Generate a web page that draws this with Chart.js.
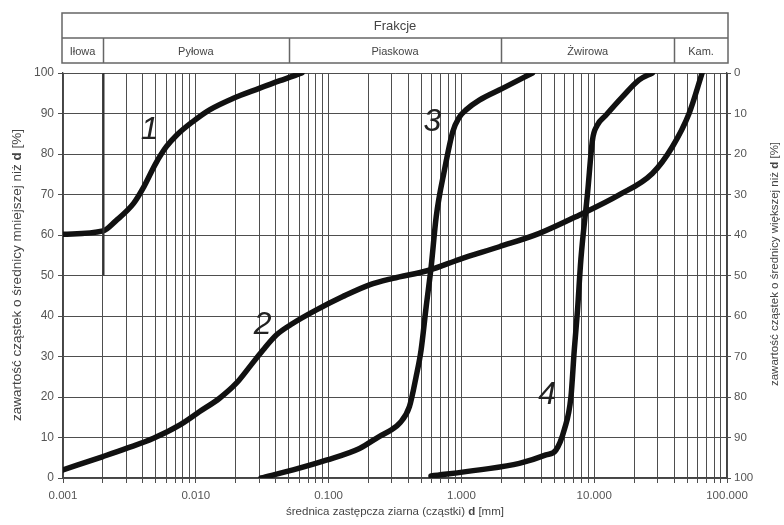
<!DOCTYPE html>
<html><head><meta charset="utf-8">
<script src="https://cdn.jsdelivr.net/npm/chart.js@4/dist/chart.umd.min.js"></script>
<style>html,body{margin:0;padding:0;background:#fff;}#wrap{width:784px;height:525px;}</style>
</head><body><div id="wrap"><canvas id="c" width="784" height="525"></canvas></div>
<script>
// ---- data ----
const xTickValues = [0.001, 0.01, 0.1, 1, 10, 100];
const xTickLabels = ['0.001', '0.010', '0.100', '1.000', '10.000', '100.000'];
const yTickValues = [0, 10, 20, 30, 40, 50, 60, 70, 80, 90, 100];
const headerTitle = 'Frakcje';
const fractionNames = ['Iłowa', 'Pyłowa', 'Piaskowa', 'Żwirowa', 'Kam.'];
const fractionBounds = [0.001, 0.002, 0.05, 2, 40, 100];

const curve1D = [0.001, 0.002, 0.0025, 0.0034, 0.004, 0.005, 0.006, 0.0072, 0.0095, 0.0127, 0.019, 0.03, 0.043, 0.063];
const curve1P = [60.2, 61, 63.5, 67.8, 71.5, 77.7, 81.8, 84.7, 88, 90.9, 93.7, 96.2, 98.1, 100];
const curve2D = [0.001, 0.002, 0.003, 0.0048, 0.0076, 0.0107, 0.0151, 0.0202, 0.0255, 0.0321, 0.0404, 0.054, 0.081, 0.128, 0.203, 0.305, 0.57, 0.97, 1.93, 3.86, 7.7, 15.4, 27.4, 38.8, 51.8, 65];
const curve2P = [2, 5.3, 7.3, 9.8, 13.1, 16.4, 19.7, 23.4, 27.5, 31.6, 35.3, 38.2, 41.5, 44.8, 47.7, 49.3, 51.3, 54, 57.1, 60.4, 64.9, 69.9, 75.2, 81.8, 90, 100];
const curve3D = [0.031, 0.054, 0.096, 0.171, 0.242, 0.30, 0.342, 0.406, 0.456, 0.497, 0.543, 0.592, 0.646, 0.745, 0.861, 0.96, 1.084, 1.365, 2.04, 3.43];
const curve3P = [0, 2, 4.4, 7.3, 10.3, 12, 13.5, 17.6, 25, 31.6, 42.3, 52.2, 64.5, 76, 85.5, 89, 90.9, 93.3, 96.2, 100];
const curve4D = [0.59, 1.365, 2.73, 4.33, 5.15, 5.95, 6.68, 7.08, 7.49, 7.94, 8.91, 9.71, 10.5, 12.2, 16.3, 21.8, 27.4];
const curve4P = [0.5, 2, 3.6, 5.7, 6.9, 11.9, 20, 31.6, 41.5, 54, 70.3, 83.5, 87, 89.5, 94.1, 98.3, 100];

const curveNames = ['1', '2', '3', '4'];
const curveLabelD = [0.0045, 0.0319, 0.605, 4.43];
const curveLabelP = [86, 37.8, 88, 20.5];

const leftTitle = ['zawartość cząstek o średnicy mniejszej niż ', 'd', ' [%]'];
const rightTitle = ['zawartość cząstek o średnicy większej niż ', 'd', ' [%]'];
const bottomTitle = ['średnica zastępcza ziarna (cząstki) ', 'd', ' [mm]'];

// ---- helpers ----
const FONT = '"Liberation Sans", Arial, sans-serif';
const GRID = '#4e4e4e';
function pts(ds, ps) { return ds.map((d, i) => ({ x: d, y: ps[i] })); }
const gridValues = [];
for (let e = -3; e <= 1; e++) {
  for (let s = 1; s <= 9; s++) gridValues.push(+(s * Math.pow(10, e)).toPrecision(6));
}
gridValues.push(100);

function lineDs(d, p) {
  return { data: pts(d, p), borderColor: '#111', borderWidth: 5.5, pointRadius: 0, fill: false,
    cubicInterpolationMode: 'monotone', borderCapStyle: 'round', borderJoinStyle: 'round' };
}

function drawMixed(ctx, parts, cx, cy, size, rot) {
  const fonts = parts.map((_, i) => (i === 1 ? 'bold ' : '') + size + 'px ' + FONT);
  let total = 0; const w = [];
  parts.forEach((t, i) => { ctx.font = fonts[i]; const m = ctx.measureText(t).width; w.push(m); total += m; });
  ctx.save();
  ctx.translate(cx, cy);
  if (rot) ctx.rotate(rot);
  ctx.textBaseline = 'middle'; ctx.textAlign = 'left'; ctx.fillStyle = '#444';
  let x = -total / 2;
  parts.forEach((t, i) => { ctx.font = fonts[i]; ctx.fillText(t, x, 0); x += w[i]; });
  ctx.restore();
}

const decor = {
  id: 'decor',
  afterDraw(chart) {
    const ctx = chart.ctx, xs = chart.scales.x, ys = chart.scales.y, a = chart.chartArea;
    ctx.save();
    // header table
    const L = a.left - 1, R = a.right + 1, T = 13, M = 38, B = 63;
    ctx.strokeStyle = '#666'; ctx.lineWidth = 1.5;
    ctx.strokeRect(L, T, R - L, B - T);
    ctx.beginPath(); ctx.moveTo(L, M); ctx.lineTo(R, M); ctx.stroke();
    for (let i = 1; i < fractionBounds.length - 1; i++) {
      const px = Math.round(xs.getPixelForValue(fractionBounds[i])) + 0.5;
      ctx.beginPath(); ctx.moveTo(px, M); ctx.lineTo(px, B); ctx.stroke();
    }
    ctx.fillStyle = '#444'; ctx.textAlign = 'center'; ctx.textBaseline = 'middle';
    ctx.font = '13px ' + FONT;
    ctx.fillText(headerTitle, (L + R) / 2, (T + M) / 2 + 1);
    ctx.font = '11px ' + FONT;
    for (let i = 0; i < fractionNames.length; i++) {
      const x0 = i === 0 ? L : xs.getPixelForValue(fractionBounds[i]);
      const x1 = i === fractionNames.length - 1 ? R : xs.getPixelForValue(fractionBounds[i + 1]);
      ctx.fillText(fractionNames[i], (x0 + x1) / 2, (M + B) / 2 + 1);
    }
    // 0.002 boundary mark (100 -> 50 %)
    const bx = Math.round(xs.getPixelForValue(fractionBounds[1])) + 0.5;
    ctx.strokeStyle = '#333'; ctx.lineWidth = 2;
    ctx.beginPath(); ctx.moveTo(bx, ys.getPixelForValue(100)); ctx.lineTo(bx, ys.getPixelForValue(50)); ctx.stroke();
    // curve labels
    ctx.fillStyle = '#222'; ctx.font = 'italic 32px ' + FONT;
    ctx.textAlign = 'center'; ctx.textBaseline = 'middle';
    curveNames.forEach((n, i) => ctx.fillText(n, xs.getPixelForValue(curveLabelD[i]), ys.getPixelForValue(curveLabelP[i])));
    // axis titles
    drawMixed(ctx, leftTitle, 17, 275, 13.5, -Math.PI / 2);
    drawMixed(ctx, rightTitle, 775, 264, 11.5, -Math.PI / 2);
    drawMixed(ctx, bottomTitle, 395, 512, 11.5, 0);
    ctx.restore();
  }
};

new Chart(document.getElementById('c'), {
  type: 'line',
  data: { datasets: [lineDs(curve1D, curve1P), lineDs(curve2D, curve2P), lineDs(curve3D, curve3P), lineDs(curve4D, curve4P)] },
  options: {
    responsive: false, animation: false, events: [],
    layout: { padding: { top: 73, left: 0, right: 0, bottom: 0 } },
    plugins: { legend: { display: false }, tooltip: { enabled: false } },
    scales: {
      x: {
        type: 'logarithmic', min: 0.001, max: 100,
        afterBuildTicks: s => { s.ticks = gridValues.map(v => ({ value: v })); },
        afterFit: s => { s.height = 47; },
        ticks: {
          autoSkip: false, maxRotation: 0, minRotation: 0, padding: 6, color: '#555',
          font: { family: FONT, size: 11.5 },
          callback: v => {
            const i = xTickValues.findIndex(t => Math.abs(Math.log10(t) - Math.log10(v)) < 1e-6);
            return i >= 0 ? xTickLabels[i] : '';
          }
        },
        grid: { color: GRID, lineWidth: 1, tickLength: 5 },
        border: { color: '#444', width: 1.3 }
      },
      y: {
        type: 'linear', position: 'left', min: 0, max: 100,
        afterBuildTicks: s => { s.ticks = yTickValues.map(v => ({ value: v })); },
        afterFit: s => { s.width = 63; },
        ticks: { color: '#555', padding: 4, font: { family: FONT, size: 12 } },
        grid: { color: GRID, lineWidth: 1, tickLength: 5 },
        border: { color: '#444', width: 1.3 }
      },
      y2: {
        type: 'linear', position: 'right', min: 0, max: 100, reverse: true,
        afterBuildTicks: s => { s.ticks = yTickValues.map(v => ({ value: v })); },
        afterFit: s => { s.width = 57; },
        ticks: { color: '#555', padding: 3, font: { family: FONT, size: 11.5 } },
        grid: { drawOnChartArea: false, color: GRID, tickLength: 4 },
        border: { color: '#444', width: 1.3 }
      }
    }
  },
  plugins: [decor]
});
</script></body></html>
